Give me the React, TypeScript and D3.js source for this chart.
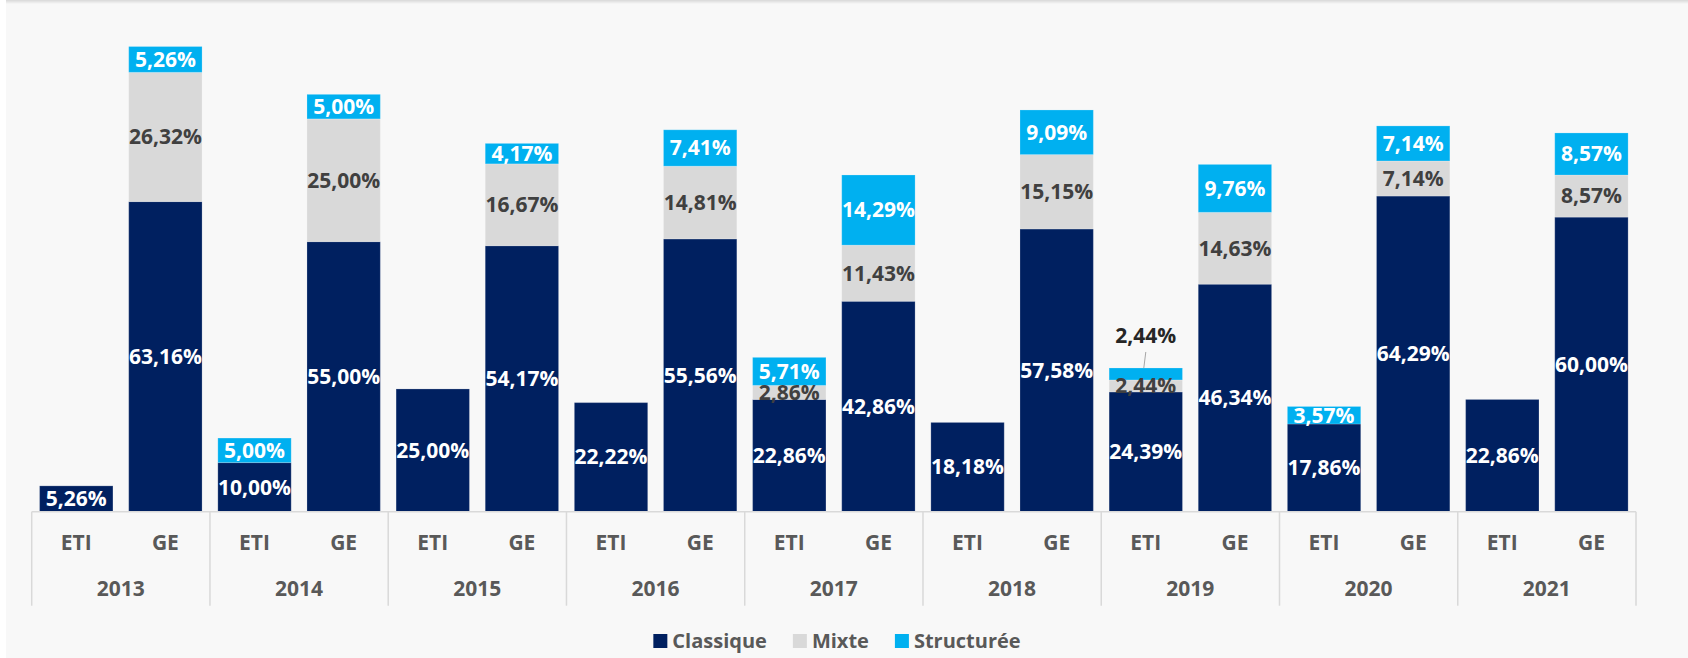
import React, { useEffect, useRef } from "react";
import * as d3 from "d3";

const years = ["2013", "2014", "2015", "2016", "2017", "2018", "2019", "2020", "2021"];
const categories = ["ETI", "GE"];
const seriesNames = ["Classique", "Mixte", "Structurée"];

// values in %, ordered year by year: ETI then GE
const classique = [5.26, 63.16, 10.0, 55.0, 25.0, 54.17, 22.22, 55.56, 22.86, 42.86, 18.18, 57.58, 24.39, 46.34, 17.86, 64.29, 22.86, 60.0];
const mixte = [0, 26.32, 0, 25.0, 0, 16.67, 0, 14.81, 2.86, 11.43, 0, 15.15, 2.44, 14.63, 0, 7.14, 0, 8.57];
const structuree = [0, 5.26, 5.0, 5.0, 0, 4.17, 0, 7.41, 5.71, 14.29, 0, 9.09, 2.44, 9.76, 3.57, 7.14, 0, 8.57];

const colors = ["#002060", "#d9d9d9", "#00b0f0"];
const labelColors = ["#ffffff", "#404040", "#ffffff"];

const width = 1688;
const height = 658;
const font = "'Open Sans', sans-serif";

const fmt = (v: number) => v.toFixed(2).replace(".", ",") + "%";

const App = () => {
  const chart = useRef<SVGSVGElement>(null);

  useEffect(() => {
    const svg = d3.select(chart.current);
    svg.selectAll("*").remove();

    // background panel with a soft top shadow
    const defs = svg.append("defs");
    const grad = defs
      .append("linearGradient")
      .attr("id", "topShadow")
      .attr("x1", 0)
      .attr("y1", 0)
      .attr("x2", 0)
      .attr("y2", 1);
    grad.append("stop").attr("offset", 0).attr("stop-color", "#d8d8d8");
    grad.append("stop").attr("offset", 1).attr("stop-color", "#f8f8f8");

    svg.append("rect").attr("width", width).attr("height", height).attr("fill", "#ffffff");
    svg
      .append("rect")
      .attr("x", 6)
      .attr("y", 0)
      .attr("width", width - 6)
      .attr("height", height)
      .attr("fill", "#f8f8f8");
    svg
      .append("rect")
      .attr("x", 6)
      .attr("y", 0)
      .attr("width", width - 6)
      .attr("height", 4)
      .attr("fill", "url(#topShadow)");

    const x0 = d3.scaleBand().domain(years).range([31.7, 1636]).padding(0);
    const x1 = d3
      .scaleBand()
      .domain(categories)
      .range([0, x0.bandwidth()])
      .paddingInner(0.177)
      .paddingOuter(0.0885);
    const y = d3.scaleLinear().domain([0, 100]).range([511.7, 20.7]);

    const rows = years.flatMap((yr, i) =>
      categories.map((c, j) => ({
        year: yr,
        cat: c,
        Classique: classique[i * 2 + j],
        Mixte: mixte[i * 2 + j],
        Structurée: structuree[i * 2 + j],
      }))
    );
    const stacked = d3.stack<any>().keys(seriesNames)(rows);
    const xPos = (d: any) => (x0(d.data.year) as number) + (x1(d.data.cat) as number);

    // bars
    svg
      .append("g")
      .selectAll("g")
      .data(stacked)
      .join("g")
      .attr("fill", (d, i) => colors[i])
      .selectAll("rect")
      .data((d) => d.filter((s) => s[1] - s[0] > 0))
      .join("rect")
      .attr("x", xPos)
      .attr("width", x1.bandwidth())
      .attr("y", (d) => y(d[1]))
      .attr("height", (d) => y(d[0]) - y(d[1]))
      .attr("stroke", "#ffffff")
      .attr("stroke-opacity", 0.2)
      .attr("stroke-width", 1);

    // data labels
    const labels = svg.append("g").attr("font-family", font).attr("font-weight", 700).attr("font-size", 21);
    stacked.forEach((layer, li) => {
      layer.forEach((d: any) => {
        const v = d[1] - d[0];
        if (v <= 0) return;
        const cx = xPos(d) + x1.bandwidth() / 2;
        const outside = li === stacked.length - 1 && v < 3;
        if (outside) {
          // small top segment: label sits above the bar with a leader line
          const top = y(d[1]);
          labels
            .append("line")
            .attr("x1", cx - 2)
            .attr("y1", top)
            .attr("x2", cx)
            .attr("y2", top - 16)
            .attr("stroke", "#a6a6a6")
            .attr("stroke-width", 1);
          labels
            .append("text")
            .attr("x", cx)
            .attr("y", top - 32)
            .attr("dy", "0.35em")
            .attr("text-anchor", "middle")
            .attr("fill", "#262626")
            .text(fmt(v));
        } else {
          labels
            .append("text")
            .attr("x", cx)
            .attr("y", y((d[0] + d[1]) / 2))
            .attr("dy", "0.35em")
            .attr("text-anchor", "middle")
            .attr("fill", labelColors[li])
            .text(fmt(v));
        }
      });
    });

    // category axis (two levels)
    const axis = svg.append("g").attr("font-family", font).attr("font-weight", 700).attr("fill", "#595959");
    axis
      .append("line")
      .attr("x1", x0.range()[0])
      .attr("x2", x0.range()[1])
      .attr("y1", y(0))
      .attr("y2", y(0))
      .attr("stroke", "#d9d9d9")
      .attr("stroke-width", 1.5);
    const bounds = years.map((yr) => x0(yr) as number).concat([x0.range()[1]]);
    axis
      .selectAll("line.sep")
      .data(bounds)
      .join("line")
      .attr("class", "sep")
      .attr("x1", (d) => d)
      .attr("x2", (d) => d)
      .attr("y1", y(0))
      .attr("y2", 605.7)
      .attr("stroke", "#d9d9d9")
      .attr("stroke-width", 1.5);
    axis
      .selectAll("text.cat")
      .data(rows)
      .join("text")
      .attr("class", "cat")
      .attr("x", (d) => (x0(d.year) as number) + (x1(d.cat) as number) + x1.bandwidth() / 2)
      .attr("y", 543)
      .attr("dy", "0.35em")
      .attr("text-anchor", "middle")
      .attr("font-size", 21)
      .text((d) => d.cat);
    axis
      .selectAll("text.year")
      .data(years)
      .join("text")
      .attr("class", "year")
      .attr("x", (d) => (x0(d) as number) + x0.bandwidth() / 2)
      .attr("y", 589)
      .attr("dy", "0.35em")
      .attr("text-anchor", "middle")
      .attr("font-size", 21)
      .text((d) => d);

    // legend
    const legend = svg.append("g").attr("font-family", font).attr("font-weight", 700).attr("font-size", 20);
    let cursor = 0;
    seriesNames.forEach((name, i) => {
      const g = legend.append("g");
      g.append("rect").attr("x", 0).attr("y", -7).attr("width", 14).attr("height", 14).attr("fill", colors[i]);
      const t = g
        .append("text")
        .attr("x", 19)
        .attr("dy", "0.35em")
        .attr("fill", "#595959")
        .text(name);
      const w = 19 + (t.node() as SVGTextElement).getComputedTextLength();
      g.attr("transform", `translate(${cursor},0)`);
      cursor += w + 26;
    });
    const total = cursor - 26;
    legend.attr("transform", `translate(${837 - total / 2},641)`);
  }, []);

  return (
    <div style={{ position: "absolute", left: 0, top: 0 }}>
      <svg ref={chart} width={width} height={height}></svg>
    </div>
  );
};

export default App;
